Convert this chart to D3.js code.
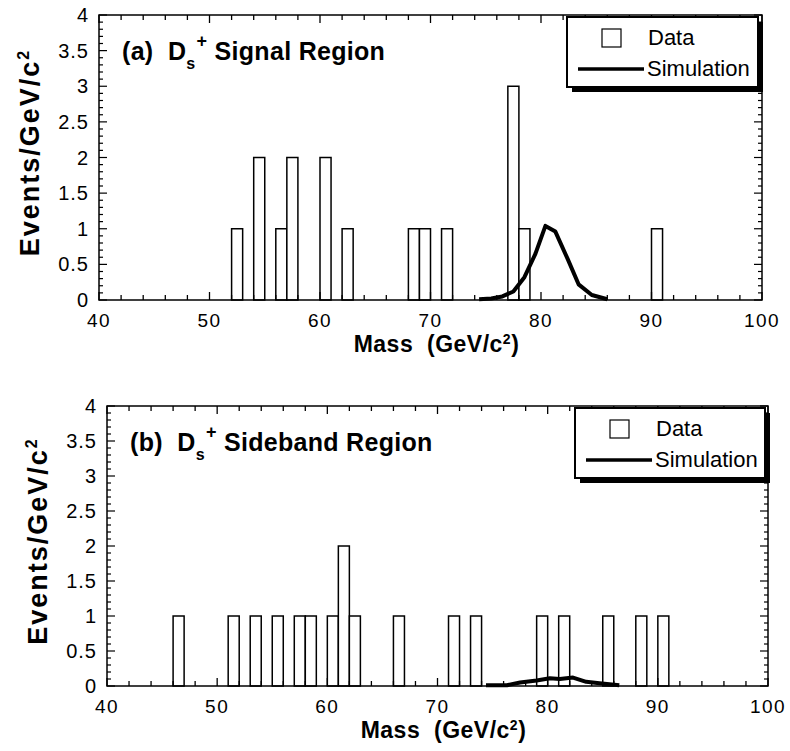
<!DOCTYPE html>
<html lang="en">
<head>
	<meta charset="UTF-8">
	<script src="https://d3js.org/d3.v7.min.js"></script>
	<title>Mass distributions</title>
</head>
<style>
	body { margin: 0; background: #fff; }
	svg { display: block; font-family: "Liberation Sans", Arial, sans-serif; }
	.tick-label { font-size: 19px; letter-spacing: 1.5px; fill: #000; }
	.bold { font-weight: bold; fill: #000; }
</style>
<body>
	<svg width="790" height="751"></svg>
</body>
<script>
	// tick values
	var massTicks = [40, 50, 60, 70, 80, 90, 100];
	var countTicks = [0, 0.5, 1, 1.5, 2, 2.5, 3, 3.5, 4];

	// (a) signal region histogram, 1 GeV bins (lower edge)
	var signalBins = [52, 54, 56, 57, 60, 62, 68, 69, 71, 77, 78, 90];
	var signalCounts = [1, 2, 1, 2, 2, 1, 1, 1, 1, 3, 1, 1];
	var signalSimMass = [74.4, 75.5, 76.5, 77.5, 78.5, 79.5, 80.4, 81.3, 82.4, 83.4, 84.6, 86.0];
	var signalSimValue = [0.01, 0.02, 0.05, 0.12, 0.32, 0.65, 1.04, 0.96, 0.58, 0.22, 0.07, 0.01];

	// (b) sideband region histogram
	var sidebandBins = [46, 51, 53, 55, 57, 58, 60, 61, 62, 66, 71, 73, 79, 81, 85, 88, 90];
	var sidebandCounts = [1, 1, 1, 1, 1, 1, 1, 2, 1, 1, 1, 1, 1, 1, 1, 1, 1];
	var sidebandSimMass = [74.4, 76.3, 77.5, 79.0, 80.2, 81.1, 82.3, 83.5, 84.7, 86.5];
	var sidebandSimValue = [0.01, 0.01, 0.05, 0.08, 0.11, 0.10, 0.12, 0.06, 0.04, 0.01];

	var svg = d3.select('svg');

	function drawPanel(p) {
		var g = svg.append('g');
		var x = d3.scaleLinear().domain([40, 100]).range([p.left, p.right]);
		var y = d3.scaleLinear().domain([0, 4]).range([p.bottom, p.top]);

		// bars
		var bars = p.bins.map(function(b, i) { return { m: b, n: p.counts[i] }; });
		g.selectAll('rect.bar')
			.data(bars)
			.enter()
			.append('rect')
			.attr('class', 'bar')
			.attr('x', function(d) { return x(d.m); })
			.attr('y', function(d) { return y(d.n); })
			.attr('width', function(d) { return x(d.m + 1) - x(d.m); })
			.attr('height', function(d) { return y(0) - y(d.n); })
			.attr('fill', '#fff')
			.attr('stroke', '#000')
			.attr('stroke-width', 1.5);

		// simulation curve
		var pts = p.simMass.map(function(m, i) { return [m, p.simValue[i]]; });
		g.append('path')
			.datum(pts)
			.attr('d', d3.line()
				.x(function(d) { return x(d[0]); })
				.y(function(d) { return y(d[1]); }))
			.attr('fill', 'none')
			.attr('stroke', '#000')
			.attr('stroke-width', 4)
			.attr('stroke-linejoin', 'round');

		// frame
		g.append('rect')
			.attr('x', p.left).attr('y', p.top)
			.attr('width', p.right - p.left).attr('height', p.bottom - p.top)
			.attr('fill', 'none').attr('stroke', '#000').attr('stroke-width', 1.5);

		// minor/major ticks on all four sides
		var xt = d3.range(40, 101, 2);
		var yt = d3.range(0, 41).map(function(v) { return v / 10; });
		function xlen(v) { return v % 10 === 0 ? 8 : 5; }
		function ylen(v) { return Math.abs(v * 2 - Math.round(v * 2)) < 1e-6 ? 8 : 4; }

		[[p.bottom, -1], [p.top, 1]].forEach(function(s) {
			g.selectAll(null).data(xt).enter().append('line')
				.attr('x1', function(d) { return x(d); })
				.attr('x2', function(d) { return x(d); })
				.attr('y1', s[0])
				.attr('y2', function(d) { return s[0] + s[1] * xlen(d); })
				.attr('stroke', '#000').attr('stroke-width', 1.3);
		});
		[[p.left, 1], [p.right, -1]].forEach(function(s) {
			g.selectAll(null).data(yt).enter().append('line')
				.attr('y1', function(d) { return y(d); })
				.attr('y2', function(d) { return y(d); })
				.attr('x1', s[0])
				.attr('x2', function(d) { return s[0] + s[1] * ylen(d); })
				.attr('stroke', '#000').attr('stroke-width', 1.2);
		});

		// tick labels
		g.selectAll('text.xl').data(massTicks).enter().append('text')
			.attr('class', 'tick-label')
			.attr('x', function(d) { return x(d); })
			.attr('y', p.bottom + 27)
			.attr('text-anchor', 'middle')
			.text(function(d) { return d; });
		g.selectAll('text.yl').data(countTicks).enter().append('text')
			.attr('class', 'tick-label')
			.attr('x', p.left - 10)
			.attr('y', function(d) { return y(d) + 7; })
			.attr('text-anchor', 'end')
			.style('font-size', '20px')
			.style('letter-spacing', '1px')
			.text(function(d) { return d; });

		// axis titles
		var xl = g.append('text')
			.attr('class', 'bold')
			.attr('x', (p.left + p.right) / 2 + 6)
			.attr('y', p.bottom + 52)
			.attr('text-anchor', 'middle')
			.style('font-size', '23px')
			.style('letter-spacing', '0.5px')
			.attr('xml:space', 'preserve');
		xl.append('tspan').text('Mass  (GeV/c');
		xl.append('tspan').attr('dy', -8).style('font-size', '14px').text('2');
		xl.append('tspan').attr('dy', 8).text(')');

		var yl = g.append('text')
			.attr('class', 'bold')
			.attr('transform', 'translate(' + (p.left - 60) + ',' + ((p.top + p.bottom) / 2 - 5) + ') rotate(-90)')
			.attr('text-anchor', 'middle')
			.style('font-size', '27px')
			.style('letter-spacing', '2px');
		yl.append('tspan').text('Events/GeV/c');
		yl.append('tspan').attr('dy', -10).style('font-size', '16px').text('2');

		// panel title
		var t = g.append('text')
			.attr('class', 'bold')
			.attr('x', p.left + 23)
			.attr('y', p.top + 45)
			.style('font-size', '25px')
			.style('letter-spacing', '0.3px')
			.attr('xml:space', 'preserve');
		t.append('tspan').text(p.label + '  D');
		t.append('tspan').attr('dy', 9).style('font-size', '16px').text('s');
		t.append('tspan').attr('dy', -22).attr('dx', 1).style('font-size', '18px').text('+');
		t.append('tspan').attr('dy', 13).text(' ' + p.title);

		// legend with drop shadow
		var lx = p.legend[0], ly = p.legend[1], lw = p.legend[2], lh = p.legend[3];
		g.append('rect')
			.attr('x', lx + 5).attr('y', ly + 5).attr('width', lw).attr('height', lh)
			.attr('fill', '#000');
		g.append('rect')
			.attr('x', lx).attr('y', ly).attr('width', lw).attr('height', lh)
			.attr('fill', '#fff').attr('stroke', '#000').attr('stroke-width', 2);
		g.append('rect')
			.attr('x', lx + 35).attr('y', ly + 12).attr('width', 19).attr('height', 18)
			.attr('fill', '#fff').attr('stroke', '#000').attr('stroke-width', 1.2);
		g.append('text')
			.attr('x', lx + 81).attr('y', ly + 28)
			.style('font-size', '22px').text('Data');
		g.append('line')
			.attr('x1', lx + 11).attr('x2', lx + 77)
			.attr('y1', ly + 52).attr('y2', ly + 52)
			.attr('stroke', '#000').attr('stroke-width', 3.5);
		g.append('text')
			.attr('x', lx + 80).attr('y', ly + 59)
			.style('font-size', '22px').text('Simulation');
	}

	drawPanel({
		left: 99, right: 762, top: 15, bottom: 300,
		bins: signalBins, counts: signalCounts,
		simMass: signalSimMass, simValue: signalSimValue,
		label: '(a)', title: 'Signal Region',
		legend: [567, 17, 191, 70]
	});
	drawPanel({
		left: 107, right: 768, top: 406, bottom: 686,
		bins: sidebandBins, counts: sidebandCounts,
		simMass: sidebandSimMass, simValue: sidebandSimValue,
		label: '(b)', title: 'Sideband Region',
		legend: [575, 408, 190, 70]
	});
</script>
</html>
